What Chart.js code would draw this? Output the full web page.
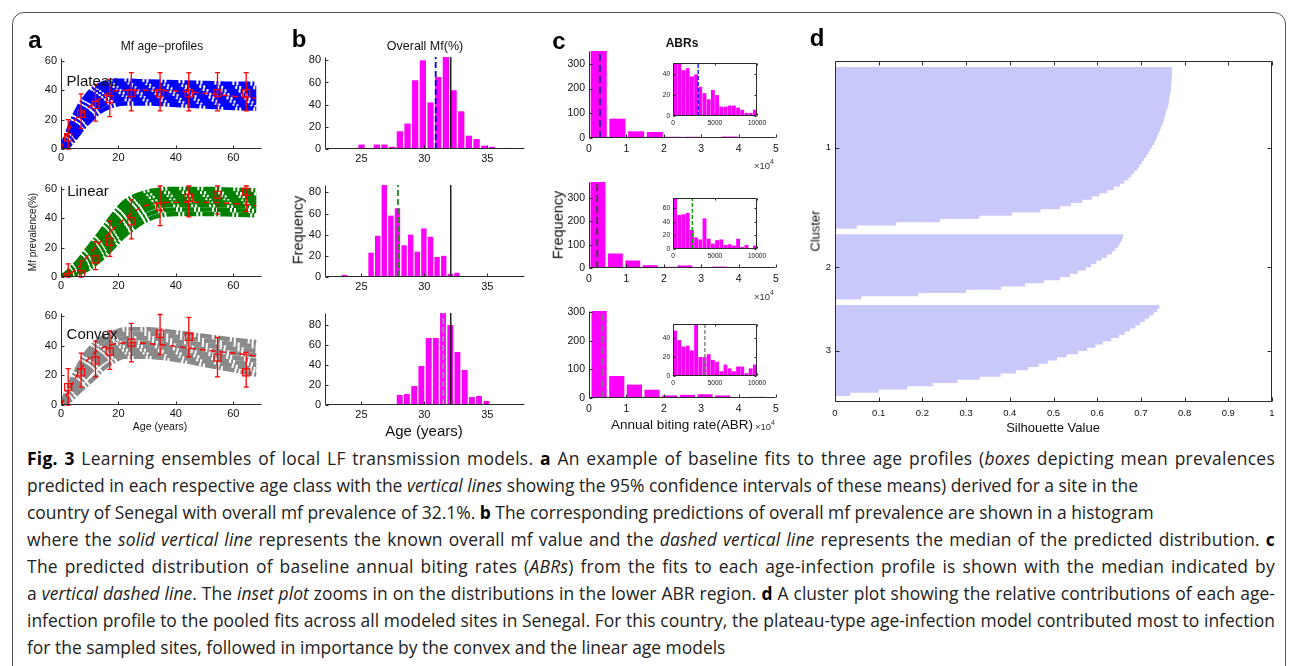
<!DOCTYPE html>
<html>
<head>
<meta charset="utf-8">
<script src="https://cdn.jsdelivr.net/npm/chart.js"></script>
<style>
  body { margin: 0; background: #fff; width: 1290px; height: 666px; overflow: hidden; position: relative; font-family: 'Liberation Sans', Arial, sans-serif; }
  canvas { position: absolute; }
  .lbl { position: absolute; transform: translate(-50%, -50%); white-space: nowrap; color: #111; line-height: 1; }
  .frame { position: absolute; left: 12px; top: 12px; width: 1272px; height: 700px; border: 1.5px solid #555; border-radius: 12px; }
  .cap { position: absolute; left: 27px; font-family: 'Open Sans', sans-serif; color: #222; line-height: 27px; white-space: nowrap; }
  .cap b { color: #000; }
</style>
</head>
<body>
<div class="frame"></div>
<div id="caption"></div>
<script>
// ---- panel a : Mf age-profiles ----
const sampleAges = [2.5, 7, 12, 17, 24.5, 34.5, 44.5, 54.5, 64.5];
const fitAges = [0, 2.5, 5, 7.5, 10, 12.5, 15, 20, 25, 30, 40, 50, 60, 68];
const runAges = [0, 2, 4, 6, 8, 10, 12, 15, 18, 22, 30, 40, 50, 60, 68];

const plateauMean = [8, 24, 30, 34, 38, 38, 38, 38, 38];
const plateauLo = [0, 14, 19, 22, 26, 26, 26, 26, 26];
const plateauHi = [20, 37.5, 44, 47.5, 52, 52, 52, 52, 52];
const plateauFit = [0, 12, 20, 25, 29, 33, 36.5, 40, 40, 40, 39.5, 38, 36, 34.5];
const plateauRuns = [
    [0, 10, 20, 28, 34, 39, 42, 45, 46.5, 46.5, 46, 45.5, 45, 44.5, 44.5],
    [0, 9, 18, 25.5, 31.5, 36.5, 40, 43, 44.5, 44.5, 44, 43.5, 42.5, 42, 41.5],
    [0, 7.5, 15.5, 23, 29, 34, 37.5, 40.5, 42, 42.5, 42, 41, 40, 39.5, 39],
    [0, 6.5, 13.5, 20.5, 26.5, 31.5, 35, 38.5, 40, 40.5, 40, 39, 38, 37, 36.5],
    [0, 5, 11.5, 18, 24, 29, 32.5, 36, 37.5, 38, 37.5, 36.5, 35.5, 34.5, 34],
    [0, 4, 9.5, 15.5, 21, 26, 29.5, 33.5, 35, 36, 35.5, 34.5, 33, 32, 31.5],
    [0, 2.5, 7, 12.5, 18, 22.5, 26.5, 30.5, 32.5, 34, 33.5, 32.5, 31, 30, 29.5],
    [0, 1, 5, 10, 15, 19, 23, 27, 29.5, 31, 31, 30, 29, 28, 27.5]
];

const linearMean = [0, 2, 12, 24, 38, 48, 54, 56, 58];
const linearLo = [0, 0, 5, 14, 26, 35, 41, 43, 44.5];
const linearHi = [9, 11, 24, 38, 52.5, 62, 62, 62, 62];
const linearFit = [0, 1.5, 5, 10, 16, 21.5, 26.5, 36, 44, 49, 51, 51, 50, 48.5];
const linearRuns = [
    [0, 3, 7, 11, 16, 21, 26, 34, 42, 51, 58, 60, 60, 59.5, 59],
    [0, 2.5, 6, 9.5, 14, 18.5, 23, 31, 38.5, 47.5, 56, 57.5, 57.5, 57, 56.5],
    [0, 2, 5, 8, 12, 16, 20.5, 28, 35.5, 44.5, 53.5, 55, 55, 54.5, 54],
    [0, 1.5, 4, 7, 10, 14, 18, 25, 32, 41, 51, 53, 53, 52.5, 52],
    [0, 1, 3, 5.5, 8.5, 12, 15.5, 22, 29, 38, 48.5, 51, 51, 50.5, 50],
    [0, 0.5, 2, 4.5, 7, 10, 13, 19.5, 26, 35, 46, 49, 49, 48.5, 48],
    [0, 0.5, 1.5, 3, 5.5, 8, 11, 17, 23, 31.5, 42.5, 46, 46, 45.5, 45],
    [0, 0, 0.5, 2, 4, 6, 9, 14, 20, 28, 39, 43, 43, 42.5, 42]
];

const convexMean = [12, 22, 30, 36, 42, 48, 46, 32, 22];
const convexLo = [0, 12, 19, 24, 29, 34, 32.5, 19, 12];
const convexHi = [24.5, 35, 43, 50, 55, 61, 59, 45.5, 35.5];
const convexFit = [0, 9, 18, 26, 32, 36.5, 39, 41.5, 42, 41.5, 39.5, 37, 35, 33];
const convexRuns = [
    [0, 9, 18, 26, 33, 38, 42, 46, 48.5, 51, 51, 49, 46.5, 44, 42.5],
    [0, 8, 16, 23.5, 30, 35, 39, 43, 46, 48, 48, 46, 43.5, 41, 39.5],
    [0, 7, 14, 21, 27, 32, 36, 40, 43, 45, 45, 43, 40.5, 38, 36.5],
    [0, 6, 12.5, 19, 24.5, 29.5, 33, 37.5, 40, 42, 42, 40, 37.5, 35, 33.5],
    [0, 5, 11, 17, 22, 27, 30.5, 35, 37.5, 39.5, 39.5, 37.5, 34.5, 32, 30],
    [0, 4, 9.5, 15, 20, 24.5, 28, 32.5, 35, 37, 37, 35, 32, 29, 27],
    [0, 3, 8, 13, 17.5, 22, 25.5, 30, 32.5, 34.5, 34.5, 32.5, 29.5, 26.5, 24],
    [0, 1.5, 4.5, 8.5, 12, 15.5, 19, 25, 29, 32.5, 32.5, 30.5, 27, 23.5, 20.5]
];
const ageTicks = [0, 20, 40, 60];

// ---- panel b : overall Mf histograms ----
const mfBins1 = [25.00, 25.61, 26.22, 26.83, 27.44, 28.05, 28.66, 29.27, 29.88, 30.49, 31.10, 31.71, 32.32, 32.93, 33.54, 34.15, 34.76, 35.37, 35.98, 36.59];
const mfCounts1 = [4, 1, 4, 4, 2, 16, 23, 62, 80, 42, 65, 83, 53, 34, 12, 9, 3, 2, 0, 1];
const mfBins2 = [23.66, 24.19, 24.71, 25.24, 25.76, 26.29, 26.81, 27.34, 27.86, 28.39, 28.91, 29.44, 29.96, 30.49, 31.01, 31.54, 32.06, 32.59, 33.11, 33.64];
const mfCounts2 = [2, 0, 0, 1, 23, 39, 87, 58, 65, 30, 40, 24, 46, 38, 19, 20, 3, 4, 0, 1];
const mfBins3 = [26.32, 26.89, 27.47, 28.04, 28.61, 29.19, 29.76, 30.34, 30.91, 31.48, 32.06, 32.63, 33.21, 33.78, 34.35, 34.93, 35.50, 36.08, 36.65, 37.22];
const mfCounts3 = [1, 1, 1, 10, 11, 19, 39, 67, 67, 92, 80, 53, 35, 8, 9, 4, 1, 1, 0, 1];
const mfMedian = [30.9, 27.9, 31.5];
const mfObserved = 32.1;
const mfTicks = [25, 30, 35];

// ---- panel c : ABR histograms with insets ----
const abrBins1 = [2600, 7600, 12600, 17600, 22600, 27600, 32600, 37600, 42600, 47600];
const abrCounts1 = [352, 78, 27, 24, 5, 5, 2, 6, 2, 3];
const abrBins2 = [2400, 7050, 11700, 16350, 21000, 25650, 30300, 34950, 39600, 44250];
const abrCounts2 = [368, 62, 32, 12, 5, 11, 4, 6, 2, 3];
const abrBins3 = [2700, 7420, 12140, 16860, 21580, 26300, 31020, 35740, 40460, 45180];
const abrCounts3 = [305, 77, 47, 29, 9, 11, 13, 9, 2, 4];
const abrMedian = [2900, 2200, 3750];
const abrTicks = [0, 10000, 20000, 30000, 40000, 50000];
const freqTicksC = [0, 100, 200, 300];

const insetBins = [250, 750, 1250, 1750, 2250, 2750, 3250, 3750, 4250, 4750, 5250, 5750, 6250, 6750, 7250, 7750, 8250, 8750, 9250, 9750];
const insetCounts1 = [51, 51, 44, 46, 38, 40, 28, 22, 16, 25, 20, 9, 9, 10, 10, 8, 6, 3, 3, 6];
const insetCounts2 = [75, 50, 51, 53, 28, 17, 14, 45, 15, 8, 13, 14, 6, 7, 5, 15, 3, 6, 1, 5];
const insetCounts3 = [48, 38, 31, 32, 27, 55, 20, 20, 23, 17, 15, 5, 12, 8, 5, 10, 10, 3, 8, 12];
const insetMedian = [3000, 2300, 3800];

// ---- panel d : silhouette values ----
const silhouette1 = [0.771, 0.771, 0.771, 0.770, 0.770, 0.769, 0.769, 0.768, 0.766, 0.765,
    0.764, 0.763, 0.761, 0.758, 0.756, 0.754, 0.752, 0.749, 0.746, 0.743,
    0.740, 0.737, 0.734, 0.730, 0.726, 0.721, 0.717, 0.712, 0.707, 0.702,
    0.697, 0.692, 0.685, 0.678, 0.672, 0.662, 0.652, 0.638, 0.623, 0.605,
    0.588, 0.566, 0.540, 0.515, 0.470, 0.405, 0.330, 0.240, 0.140, 0.050];
const silhouette2 = [0.659, 0.657, 0.653, 0.648, 0.641, 0.634, 0.622, 0.610, 0.598, 0.586,
    0.574, 0.556, 0.538, 0.515, 0.478, 0.435, 0.380, 0.300, 0.190, 0.060];
const silhouette3 = [0.742, 0.737, 0.729, 0.719, 0.709, 0.698, 0.687, 0.675, 0.663, 0.650,
    0.632, 0.613, 0.596, 0.577, 0.556, 0.530, 0.508, 0.487, 0.466, 0.442,
    0.414, 0.379, 0.331, 0.280, 0.224, 0.165, 0.100, 0.035];
const clusterNames = ['1', '2', '3'];
const silTicks = [0, 0.1, 0.2, 0.3, 0.4, 0.5, 0.6, 0.7, 0.8, 0.9, 1];

const RED = '#ff0000';
const MAGENTA = '#ff00ff';

Chart.defaults.font.family = "'Liberation Sans', Arial, sans-serif";
Chart.defaults.color = '#111';
Chart.defaults.animation = false;
Chart.defaults.plugins.legend.display = false;
Chart.defaults.plugins.tooltip.enabled = false;

// matlab-like axes: lines + inward tick marks
const matAxes = {
    id: 'matAxes',
    afterDraw(chart, args, opts) {
        const ctx = chart.ctx, a = chart.chartArea, x = chart.scales.x, y = chart.scales.y;
        const len = opts.tick || 3;
        const L = Math.round(a.left) + 0.5, R = Math.round(a.right) - 0.5;
        const T = Math.round(a.top) + 0.5, B = Math.round(a.bottom) - 0.5;
        ctx.save();
        ctx.strokeStyle = opts.color || '#2b2b2b';
        ctx.lineWidth = 1;
        ctx.beginPath();
        ctx.moveTo(L, T); ctx.lineTo(L, B); ctx.lineTo(R, B);
        if (opts.box) { ctx.lineTo(R, T); ctx.lineTo(L, T); }
        x.ticks.forEach(t => {
            const px = Math.round(x.getPixelForValue(t.value)) + 0.5;
            ctx.moveTo(px, B); ctx.lineTo(px, B - len);
            if (opts.box) { ctx.moveTo(px, T); ctx.lineTo(px, T + len); }
        });
        y.ticks.forEach(t => {
            const py = Math.round(y.getPixelForValue(t.value)) + 0.5;
            ctx.moveTo(L, py); ctx.lineTo(L + len, py);
            if (opts.box) { ctx.moveTo(R, py); ctx.lineTo(R - len, py); }
        });
        ctx.stroke();
        ctx.restore();
    }
};

const whiteArea = {
    id: 'whiteArea',
    beforeDatasetsDraw(chart) {
        const a = chart.chartArea;
        chart.ctx.save();
        chart.ctx.fillStyle = '#fff';
        chart.ctx.fillRect(a.left, a.top, a.right - a.left, a.bottom - a.top);
        chart.ctx.restore();
    }
};

function errorBars(xs, lo, hi) {
    return {
        id: 'errorBars',
        afterDatasetsDraw(chart) {
            const ctx = chart.ctx, x = chart.scales.x, y = chart.scales.y;
            ctx.save();
            ctx.strokeStyle = RED;
            ctx.lineWidth = 1.3;
            ctx.beginPath();
            xs.forEach((v, i) => {
                const px = x.getPixelForValue(v), p1 = y.getPixelForValue(lo[i]), p2 = y.getPixelForValue(hi[i]);
                ctx.moveTo(px, p1); ctx.lineTo(px, p2);
                ctx.moveTo(px - 2.5, p1); ctx.lineTo(px + 2.5, p1);
                ctx.moveTo(px - 2.5, p2); ctx.lineTo(px + 2.5, p2);
            });
            ctx.stroke();
            ctx.restore();
        }
    };
}

function makeCanvas(area, pad) {
    const c = document.createElement('canvas');
    const w = area[2] - area[0] + pad.l + pad.r, h = area[3] - area[1] + pad.t + pad.b;
    c.width = w; c.height = h;
    c.style.left = (area[0] - pad.l) + 'px';
    c.style.top = (area[1] - pad.t) + 'px';
    c.style.width = w + 'px';
    c.style.height = h + 'px';
    document.body.appendChild(c);
    return c;
}

function axis(min, max, ticks, size, fontSize, fmt, extra, tickPad) {
    return Object.assign({
        type: 'linear', min: min, max: max, offset: false,
        grid: { display: false, drawTicks: false, offset: false }, border: { display: false },
        afterBuildTicks: s => { s.ticks = ticks.map(v => ({ value: v })); },
        afterFit: s => { if (s.isHorizontal()) s.height = size; else s.width = size; },
        ticks: { font: { size: fontSize }, padding: tickPad === undefined ? 4 : tickPad, maxRotation: 0, autoSkip: false, callback: fmt || (v => String(v)) }
    }, extra || {});
}

function xy(xs, ys) {
    return xs.map((v, i) => ({ x: v, y: ys[i] }));
}

function vline(xv, ymax, color, dash, width) {
    return { type: 'line', data: [{ x: xv, y: 0 }, { x: xv, y: ymax }], borderColor: color, borderDash: dash, borderWidth: width, pointRadius: 0 };
}

function profileChart(area, color, runs, fit, mean, lo, hi) {
    const pad = { l: 30, r: 16, t: 12, b: 20 };
    const ds = [
        { data: xy(fitAges, fit), showLine: true, borderColor: RED, borderDash: [6, 4], borderWidth: 1.5, pointRadius: 0, cubicInterpolationMode: 'monotone' },
        { data: xy(sampleAges, mean), showLine: false, pointStyle: 'rect', pointRadius: 5, borderColor: RED, borderWidth: 1.2, backgroundColor: 'rgba(255,255,255,0)' }
    ];
    runs.forEach(r => ds.push({
        data: xy(runAges, r), showLine: true, borderColor: color, borderWidth: 4.5,
        borderDash: [12, 2, 2, 2], pointRadius: 0, cubicInterpolationMode: 'monotone'
    }));
    new Chart(makeCanvas(area, pad), {
        type: 'scatter',
        data: { datasets: ds },
        options: {
            responsive: false,
            layout: { padding: { top: pad.t, right: pad.r } },
            scales: {
                x: axis(0, 70, ageTicks, pad.b, 11, null, {}, 2),
                y: axis(0, 62, ageTicks, pad.l, 11)
            },
            plugins: { matAxes: { tick: 3 } }
        },
        plugins: [errorBars(sampleAges, lo, hi), matAxes]
    });
}

function mfChart(area, bins, counts, ymax, median, medColor) {
    const pad = { l: 30, r: 16, t: 12, b: 20 };
    const yt = [0, 20, 40, 60, 80];
    new Chart(makeCanvas(area, pad), {
        type: 'bar',
        data: {
            datasets: [
                vline(mfObserved, ymax, '#000', [], 1.3),
                vline(median, ymax, medColor, [6, 3], 1.8),
                { data: xy(bins, counts), backgroundColor: MAGENTA, barPercentage: 0.82, categoryPercentage: 1 }
            ]
        },
        options: {
            responsive: false,
            layout: { padding: { top: pad.t, right: pad.r } },
            scales: {
                x: axis(22.1, 38, mfTicks, pad.b, 11, null, {}, 3),
                y: axis(0, ymax, yt, pad.l, 11)
            },
            plugins: { matAxes: { tick: 3 } }
        },
        plugins: [matAxes]
    });
}

function abrChart(area, bins, counts, ymax, median, medColor) {
    const pad = { l: 34, r: 16, t: 12, b: 22 };
    new Chart(makeCanvas(area, pad), {
        type: 'bar',
        data: {
            datasets: [
                vline(median, ymax, medColor, [7, 4], 1.8),
                { data: xy(bins, counts), backgroundColor: MAGENTA, barPercentage: 0.86, categoryPercentage: 1 }
            ]
        },
        options: {
            responsive: false,
            layout: { padding: { top: pad.t, right: pad.r } },
            scales: {
                x: axis(0, 50000, abrTicks, pad.b, 10.5, v => String(v / 10000), {}, 5),
                y: axis(0, ymax, freqTicksC, pad.l, 10.5)
            },
            plugins: { matAxes: { tick: 3 } }
        },
        plugins: [matAxes]
    });
}

function insetChart(area, counts, ymax, yt, median, medColor) {
    const pad = { l: 16, r: 12, t: 6, b: 12 };
    new Chart(makeCanvas(area, pad), {
        type: 'bar',
        data: {
            datasets: [
                vline(median, ymax, medColor, [4, 2], 1.3),
                { data: xy(insetBins, counts), backgroundColor: MAGENTA, barPercentage: 0.92, categoryPercentage: 1 }
            ]
        },
        options: {
            responsive: false,
            layout: { padding: { top: pad.t, right: pad.r } },
            scales: {
                x: axis(0, 10000, [0, 5000, 10000], pad.b, 6.5, null, {}, 3),
                y: axis(0, ymax, yt, pad.l, 6.5, null, {}, 3)
            },
            plugins: { matAxes: { tick: 2, box: true } }
        },
        plugins: [whiteArea, matAxes]
    });
}

// panel a
profileChart([61, 58, 262, 149], '#0000ff', plateauRuns, plateauFit, plateauMean, plateauLo, plateauHi);
profileChart([61, 186, 262, 277], '#008000', linearRuns, linearFit, linearMean, linearLo, linearHi);
profileChart([61, 313, 262, 405], '#8a8a8a', convexRuns, convexFit, convexMean, convexLo, convexHi);

// panel b
mfChart([325, 57, 525, 149], mfBins1, mfCounts1, 83, mfMedian[0], '#0000ff');
mfChart([325, 185, 525, 277], mfBins2, mfCounts2, 87, mfMedian[1], '#1a8c1a');
mfChart([325, 313, 525, 405], mfBins3, mfCounts3, 92, mfMedian[2], '#9a9a9a');

// panel c
abrChart([589, 51, 776, 138], abrBins1, abrCounts1, 352, abrMedian[0], '#14148c');
abrChart([589, 182, 776, 268], abrBins2, abrCounts2, 368, abrMedian[1], '#2f4a2f');
abrChart([589, 311, 776, 398], abrBins3, abrCounts3, 305, abrMedian[2], '#7a7a7a');
insetChart([673, 62, 757, 116], insetCounts1, 51, [0, 20, 40], insetMedian[0], '#0000ff');
insetChart([673, 197, 757, 249], insetCounts2, 75, [0, 20, 40, 60], insetMedian[1], '#00a000');
insetChart([673, 323, 757, 376], insetCounts3, 55, [0, 20, 40], insetMedian[2], '#777777');

// panel d
(function () {
    const starts = [2, 54, 76];
    const groups = [silhouette1, silhouette2, silhouette3];
    const rows = [];
    const centers = [];
    groups.forEach((g, k) => {
        g.forEach((v, i) => rows.push({ x: v, y: starts[k] + i + 0.5 }));
        centers.push(starts[k] + g.length / 2);
    });
    const pad = { l: 22, r: 16, t: 12, b: 22 };
    new Chart(makeCanvas([835, 61, 1272, 402], pad), {
        type: 'bar',
        data: { datasets: [{ data: rows, backgroundColor: 'rgb(200,200,250)', borderWidth: 0, barThickness: 4, inflateAmount: 0 }] },
        options: {
            responsive: false,
            indexAxis: 'y',
            layout: { padding: { top: pad.t, right: pad.r } },
            scales: {
                x: axis(0, 1, silTicks, pad.b, 9.5, null, {}, 6),
                y: axis(0, 106, centers, pad.l, 9.5, (v, i) => clusterNames[i], { reverse: true })
            },
            plugins: { matAxes: { tick: 4, box: true } }
        },
        plugins: [matAxes]
    });
})();

// text labels
function label(html, x, y, css) {
    const d = document.createElement('div');
    d.className = 'lbl';
    d.innerHTML = html;
    d.style.left = x + 'px';
    d.style.top = y + 'px';
    d.style.cssText += css || '';
    document.body.appendChild(d);
}
const letter = 'font-size:24px;font-weight:bold;color:#000;';
label('a', 35, 40, letter);
label('b', 299, 39, letter);
label('c', 559, 41, letter);
label('d', 817, 38, letter);
label('Mf age\u2212profiles', 162, 46, 'font-size:12px;');
label('Overall Mf(%)', 425, 46, 'font-size:12.5px;');
label('ABRs', 682, 43, 'font-size:12px;font-weight:bold;');
label('Plateau', 92, 80, 'font-size:15px;');
label('Linear', 88, 190, 'font-size:15px;');
label('Convex', 92, 333, 'font-size:15px;');
label('Mf prevalence(%)', 33, 232, 'font-size:10px;transform:translate(-50%,-50%) rotate(-90deg);');
label('Age (years)', 160, 426, 'font-size:10.5px;');
label('Frequency', 298, 230, 'font-size:14.5px;transform:translate(-50%,-50%) rotate(-90deg);');
label('Age (years)', 424, 430, 'font-size:15px;');
label('Frequency', 558, 225, 'font-size:14.5px;transform:translate(-50%,-50%) rotate(-90deg);');
label('Annual biting rate(ABR)', 682, 425, 'font-size:13.5px;');
const sup = '\u00d710<sup style="font-size:7px;vertical-align:5px;">4</sup>';
label(sup, 764, 164, 'font-size:9.5px;color:#333;');
label(sup, 764, 295, 'font-size:9.5px;color:#333;');
label(sup, 765, 425, 'font-size:9.5px;color:#333;');
label('Silhouette Value', 1053, 427, 'font-size:13px;');
label('Cluster', 815, 231, 'font-size:13px;transform:translate(-50%,-50%) rotate(-90deg);');

// caption
const captionLines = [
    ['<b>Fig. 3</b> Learning ensembles of local LF transmission models. <b>a</b> An example of baseline fits to three age profiles (<i>boxes</i> depicting mean prevalences', true],
    ['predicted in each respective age class with the <i>vertical lines</i> showing the 95% confidence intervals of these means) derived for a site in the', false],
    ['country of Senegal with overall mf prevalence of 32.1%. <b>b</b> The corresponding predictions of overall mf prevalence are shown in a histogram', false],
    ['where the <i>solid vertical line</i> represents the known overall mf value and the <i>dashed vertical line</i> represents the median of the predicted distribution. <b>c</b>', true],
    ['The predicted distribution of baseline annual biting rates (<i>ABRs</i>) from the fits to each age-infection profile is shown with the median indicated by', true],
    ['a <i>vertical dashed line</i>. The <i>inset plot</i> zooms in on the distributions in the lower ABR region. <b>d</b> A cluster plot showing the relative contributions of each age-', true],
    ['infection profile to the pooled fits across all modeled sites in Senegal. For this country, the plateau-type age-infection model contributed most to infection', true],
    ['for the sampled sites, followed in importance by the convex and the linear age models', false]
];
const capEls = captionLines.map((line, i) => {
    const d = document.createElement('div');
    d.className = 'cap';
    d.style.top = (444.5 + 27 * i) + 'px';
    d.style.fontSize = '16px';
    d.innerHTML = '<span>' + line[0] + '</span>';
    document.body.appendChild(d);
    return d;
});
// fit the font size on the free (not justified) lines: 2, 3 and 8
const freeWidth = [1, 2, 7].reduce((s, i) => s + capEls[i].firstChild.getBoundingClientRect().width, 0);
const capSize = 16 * (1130 + 1121 + 688) / freeWidth;
capEls.forEach((d, i) => {
    d.style.fontSize = capSize + 'px';
    if (captionLines[i][1]) {
        const span = d.firstChild;
        const w = span.getBoundingClientRect().width;
        const text = span.textContent;
        const spaces = text.split(' ').length - 1;
        const extra = 1248 - w;
        d.style.letterSpacing = (extra * 0.5 / text.length) + 'px';
        d.style.wordSpacing = (extra * 0.5 / spaces) + 'px';
    }
});
</script>
</body>
</html>
